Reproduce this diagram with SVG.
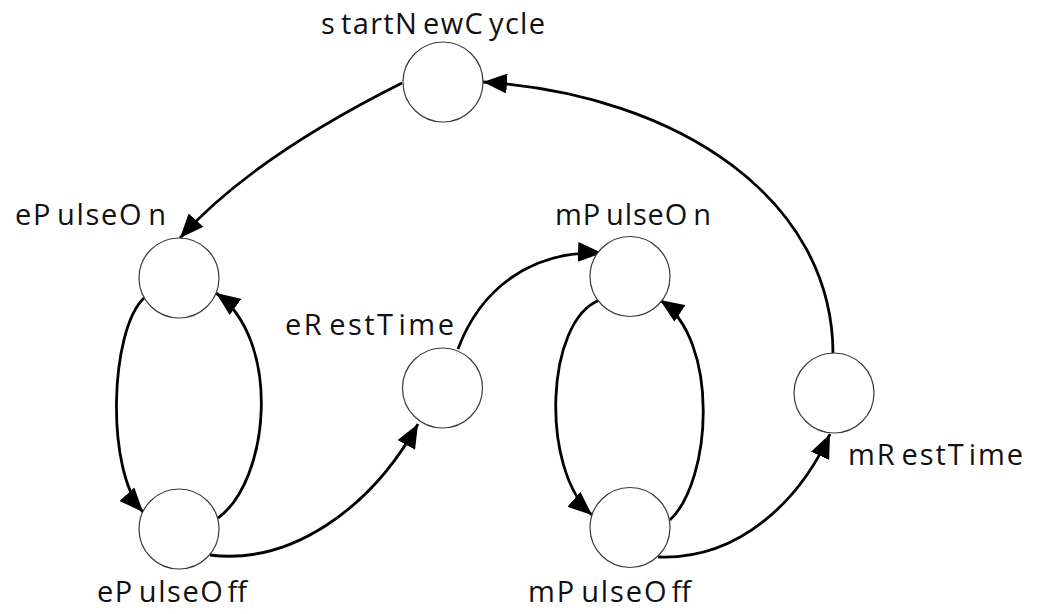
<svg xmlns="http://www.w3.org/2000/svg" width="1037" height="614" viewBox="0 0 1037 614">
  <style>
    .state { fill: #ffffff; stroke: #3a3a3a; stroke-width: 1.2; }
    .label { font-family: "Open Sans", "Liberation Sans", sans-serif; font-size: 29px; fill: #111111; }
    .edge { fill: none; stroke: #000000; stroke-width: 2.8; marker-end: url(#arrow); }
  </style>
  <defs>
    <marker id="arrow" markerUnits="userSpaceOnUse" markerWidth="25" markerHeight="20" refX="24" refY="10" orient="auto">
      <path d="M0,0 L24,10 L0,20 Z" fill="#000000"/>
    </marker>
  </defs>

  <rect width="1037" height="614" fill="#ffffff"/>

  <!-- transitions -->
  <g id="connectors">
    <path class="edge" d="M402,83 Q252,158 180,238"/>
    <path class="edge" d="M144,298 C110,330 105,470 143,512"/>
    <path class="edge" d="M218,518 C270,480 282,340 216,293"/>
    <path class="edge" d="M210,555 C290,565 370,510 418,424"/>
    <path class="edge" d="M458,349 C480,290 530,250 602,253"/>
    <path class="edge" d="M600,300 C545,320 540,470 592,515"/>
    <path class="edge" d="M670,520 C712,480 720,340 660,300"/>
    <path class="edge" d="M658,557 C740,560 800,500 830,434"/>
    <path class="edge" d="M833,354 C833,200 680,95 483,82"/>
  </g>

  <!-- states -->
  <g id="startNewCycle">
    <circle class="state" cx="443" cy="82" r="40"/>
    <text class="label" x="321" y="34" textLength="224" lengthAdjust="spacing">s<tspan dx="5">tartN</tspan><tspan dx="5">ewC</tspan><tspan dx="5">ycle</tspan></text>
  </g>
  <g id="ePulseOn">
    <circle class="state" cx="179" cy="278" r="40"/>
    <text class="label" x="15" y="225" textLength="151" lengthAdjust="spacing">eP<tspan dx="5">ulseO</tspan><tspan dx="5">n</tspan></text>
  </g>
  <g id="ePulseOff">
    <circle class="state" cx="179" cy="529" r="40"/>
    <text class="label" x="97" y="602" textLength="150" lengthAdjust="spacing">eP<tspan dx="5">ulseO</tspan><tspan dx="3">ff</tspan></text>
  </g>
  <g id="eRestTime">
    <circle class="state" cx="442.5" cy="388" r="40"/>
    <text class="label" x="285" y="335" textLength="169" lengthAdjust="spacing">eR<tspan dx="5">estT</tspan><tspan dx="3">ime</tspan></text>
  </g>
  <g id="mPulseOn">
    <circle class="state" cx="630" cy="276.5" r="40"/>
    <text class="label" x="555" y="225" textLength="156" lengthAdjust="spacing">mP<tspan dx="5">ulseO</tspan><tspan dx="5">n</tspan></text>
  </g>
  <g id="mPulseOff">
    <circle class="state" cx="630" cy="527.5" r="40"/>
    <text class="label" x="528" y="602" textLength="163" lengthAdjust="spacing">mP<tspan dx="5">ulseO</tspan><tspan dx="3">ff</tspan></text>
  </g>
  <g id="mRestTime">
    <circle class="state" cx="834" cy="393" r="40"/>
    <text class="label" x="848" y="465" textLength="175" lengthAdjust="spacing">mR<tspan dx="5">estT</tspan><tspan dx="3">ime</tspan></text>
  </g>
</svg>
